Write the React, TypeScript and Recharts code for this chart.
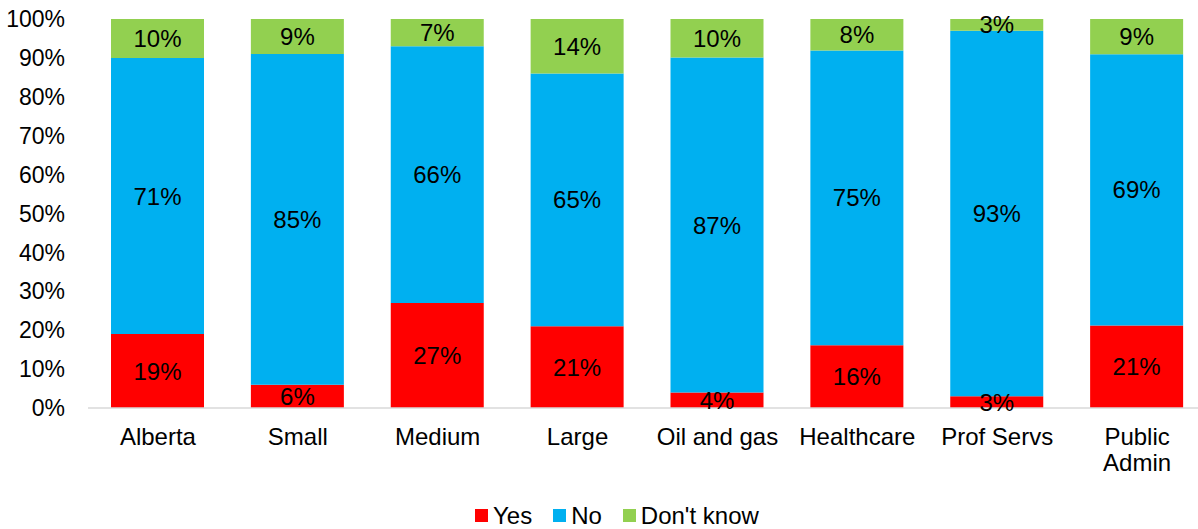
import React from "react";
import { BarChart, Bar, XAxis, YAxis, Legend, LabelList } from "recharts";

const categories = ["Alberta", "Small", "Medium", "Large", "Oil and gas", "Healthcare", "Prof Servs", "Public\nAdmin"];
const yesValues = [19, 6, 27, 21, 4, 16, 3, 21];
const noValues = [71, 85, 66, 65, 87, 75, 93, 69];
const dontKnowValues = [10, 9, 7, 14, 10, 8, 3, 9];
const yTicks = [0, 0.1, 0.2, 0.3, 0.4, 0.5, 0.6, 0.7, 0.8, 0.9, 1];

const seriesNames = ["Yes", "No", "Don't know"];
const seriesColors = ["#FF0000", "#00B0F0", "#92D050"];

const data = categories.map((c, i) => ({
  name: c,
  yes: yesValues[i],
  no: noValues[i],
  dk: dontKnowValues[i],
}));

const FONT = '"Liberation Sans", Arial, sans-serif';
const FS = 24;

const XTick = (props: any) => {
  const { x, y, payload } = props;
  const lines = String(payload.value).split("\n");
  return (
    <text x={x} y={y} textAnchor="middle" fontSize={FS} fill="#000" fontFamily={FONT}>
      {lines.map((l, i) => (
        <tspan key={i} x={x} dy={i === 0 ? "0.71em" : 26}>
          {l}
        </tspan>
      ))}
    </text>
  );
};

const renderLegend = () => (
  <div
    style={{
      height: 30,
      display: "flex",
      alignItems: "center",
      paddingLeft: 475,
      paddingTop: 3,
      boxSizing: "border-box",
      fontFamily: FONT,
      fontSize: FS,
      color: "#000",
    }}
  >
    {seriesNames.map((n, i) => (
      <div key={n} style={{ display: "flex", alignItems: "center", marginRight: 21 }}>
        <div style={{ width: 13, height: 13, background: seriesColors[i], marginRight: 5 }} />
        <span>{n}</span>
      </div>
    ))}
  </div>
);

const fmt = (v: any) => `${v}%`;

export default function App() {
  return (
    <div
      style={{
        position: "absolute",
        left: 0,
        top: 0,
        width: 1198,
        height: 529,
        overflow: "hidden",
        fontFamily: FONT,
        background: "#fff",
      }}
    >
      <BarChart
        width={1215}
        height={529}
        data={data}
        stackOffset="expand"
        margin={{ top: 19, right: 8, left: 0, bottom: 0 }}
      >
        <XAxis
          dataKey="name"
          axisLine={{ stroke: "#D9D9D9", strokeWidth: 1.5 }}
          tickLine={false}
          tickMargin={14}
          height={91}
          interval={0}
          tick={<XTick />}
        />
        <YAxis
          width={88}
          axisLine={false}
          tickLine={false}
          tickMargin={17}
          ticks={yTicks}
          domain={[0, 1]}
          tickFormatter={(v: number) => `${Math.round(v * 100)}%`}
          tick={{ fontSize: 23, fill: "#000", fontFamily: FONT }}
        />
        <Legend verticalAlign="bottom" content={renderLegend} />
        <Bar dataKey="yes" stackId="a" fill={seriesColors[0]} barSize={93} isAnimationActive={false}>
          <LabelList dataKey="yes" position="center" formatter={fmt} fill="#000" fontSize={FS} fontFamily={FONT} />
        </Bar>
        <Bar dataKey="no" stackId="a" fill={seriesColors[1]} barSize={93} isAnimationActive={false}>
          <LabelList dataKey="no" position="center" formatter={fmt} fill="#000" fontSize={FS} fontFamily={FONT} />
        </Bar>
        <Bar dataKey="dk" stackId="a" fill={seriesColors[2]} barSize={93} isAnimationActive={false}>
          <LabelList dataKey="dk" position="center" formatter={fmt} fill="#000" fontSize={FS} fontFamily={FONT} />
        </Bar>
      </BarChart>
    </div>
  );
}
